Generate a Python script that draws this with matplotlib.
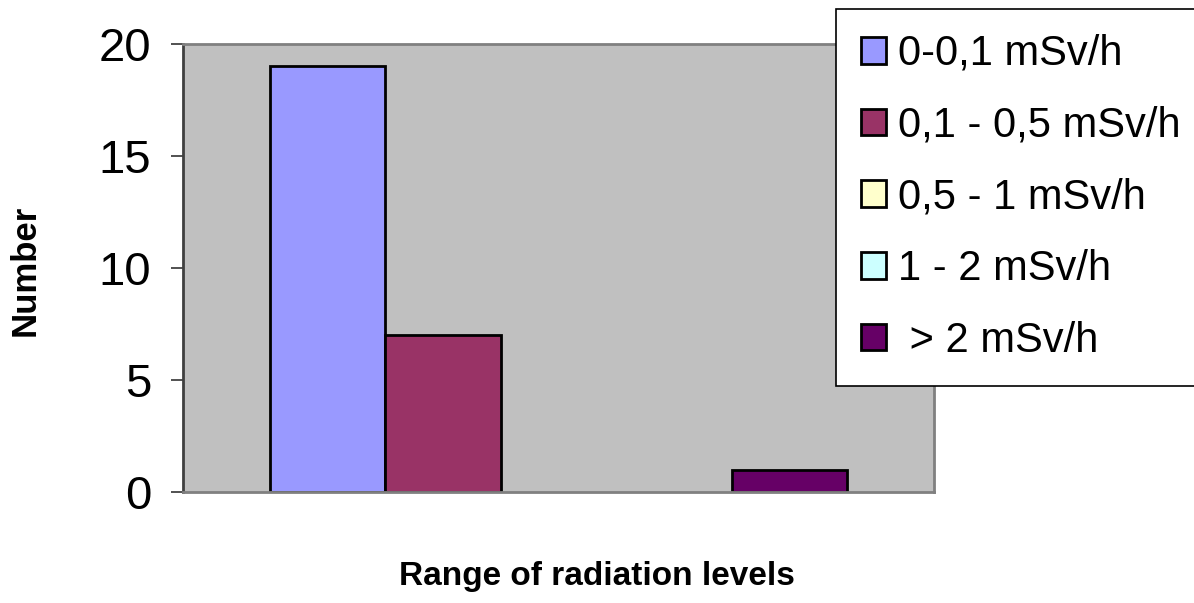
import matplotlib
matplotlib.use('Agg')
from matplotlib import pyplot as plt

plt.rcParams['font.family'] = ['Liberation Sans', 'DejaVu Sans']

# one category, five series (counts per radiation range)
series = ['0-0,1 mSv/h', '0,1 - 0,5 mSv/h', '0,5 - 1 mSv/h', '1 - 2 mSv/h', ' > 2 mSv/h']
counts = [19, 7, 0, 0, 1]
colors = ['#9999FF', '#993366', '#FFFFCC', '#CCFFFF', '#660066']
yticks = [0, 5, 10, 15, 20]

fig = plt.figure(figsize=(11.94, 6.03), dpi=100)
ax = fig.add_axes([183 / 1194, 1 - 492 / 603, 751 / 1194, 448 / 603])
ax.set_facecolor('#C0C0C0')

width = 0.1537
for i, (name, val, col) in enumerate(zip(series, counts, colors)):
    ax.bar((i - 2) * width, val, width, color=col, label=name,
           edgecolor='black', linewidth=2 if val > 0 else 0)

ax.set_xlim(-0.5, 0.5)
ax.set_ylim(0, 20)
ax.set_yticks(yticks)
ax.set_xticks([])
ax.tick_params(axis='y', labelsize=34, length=9, width=1.2, color='#333333', pad=14)

for side in ['top', 'right', 'bottom']:
    ax.spines[side].set_color('#808080')
    ax.spines[side].set_linewidth(2)
ax.spines['left'].set_color('#404040')
ax.spines['left'].set_linewidth(2)

fig.text(25 / 1194, 1 - 270 / 603, 'Number', rotation=90, fontsize=25,
         fontweight='bold', ha='center', va='center')
fig.text(597 / 1194, 1 - 577 / 603, 'Range of radiation levels', fontsize=24,
         fontweight='bold', ha='center', va='center')

leg = fig.legend(loc='upper left', bbox_to_anchor=(836 / 1194, 1 - 9 / 603),
                 fontsize=30, frameon=True, fancybox=False, edgecolor='black',
                 facecolor='white', framealpha=1,
                 handlelength=0.6, handleheight=0.6, handletextpad=0.3,
                 borderpad=0.6, labelspacing=0.76, borderaxespad=0)
leg.get_frame().set_linewidth(1.2)
for h in leg.legend_handles:
    h.set_edgecolor('black')
    h.set_linewidth(2)

fig.savefig('out.png', dpi=100)
